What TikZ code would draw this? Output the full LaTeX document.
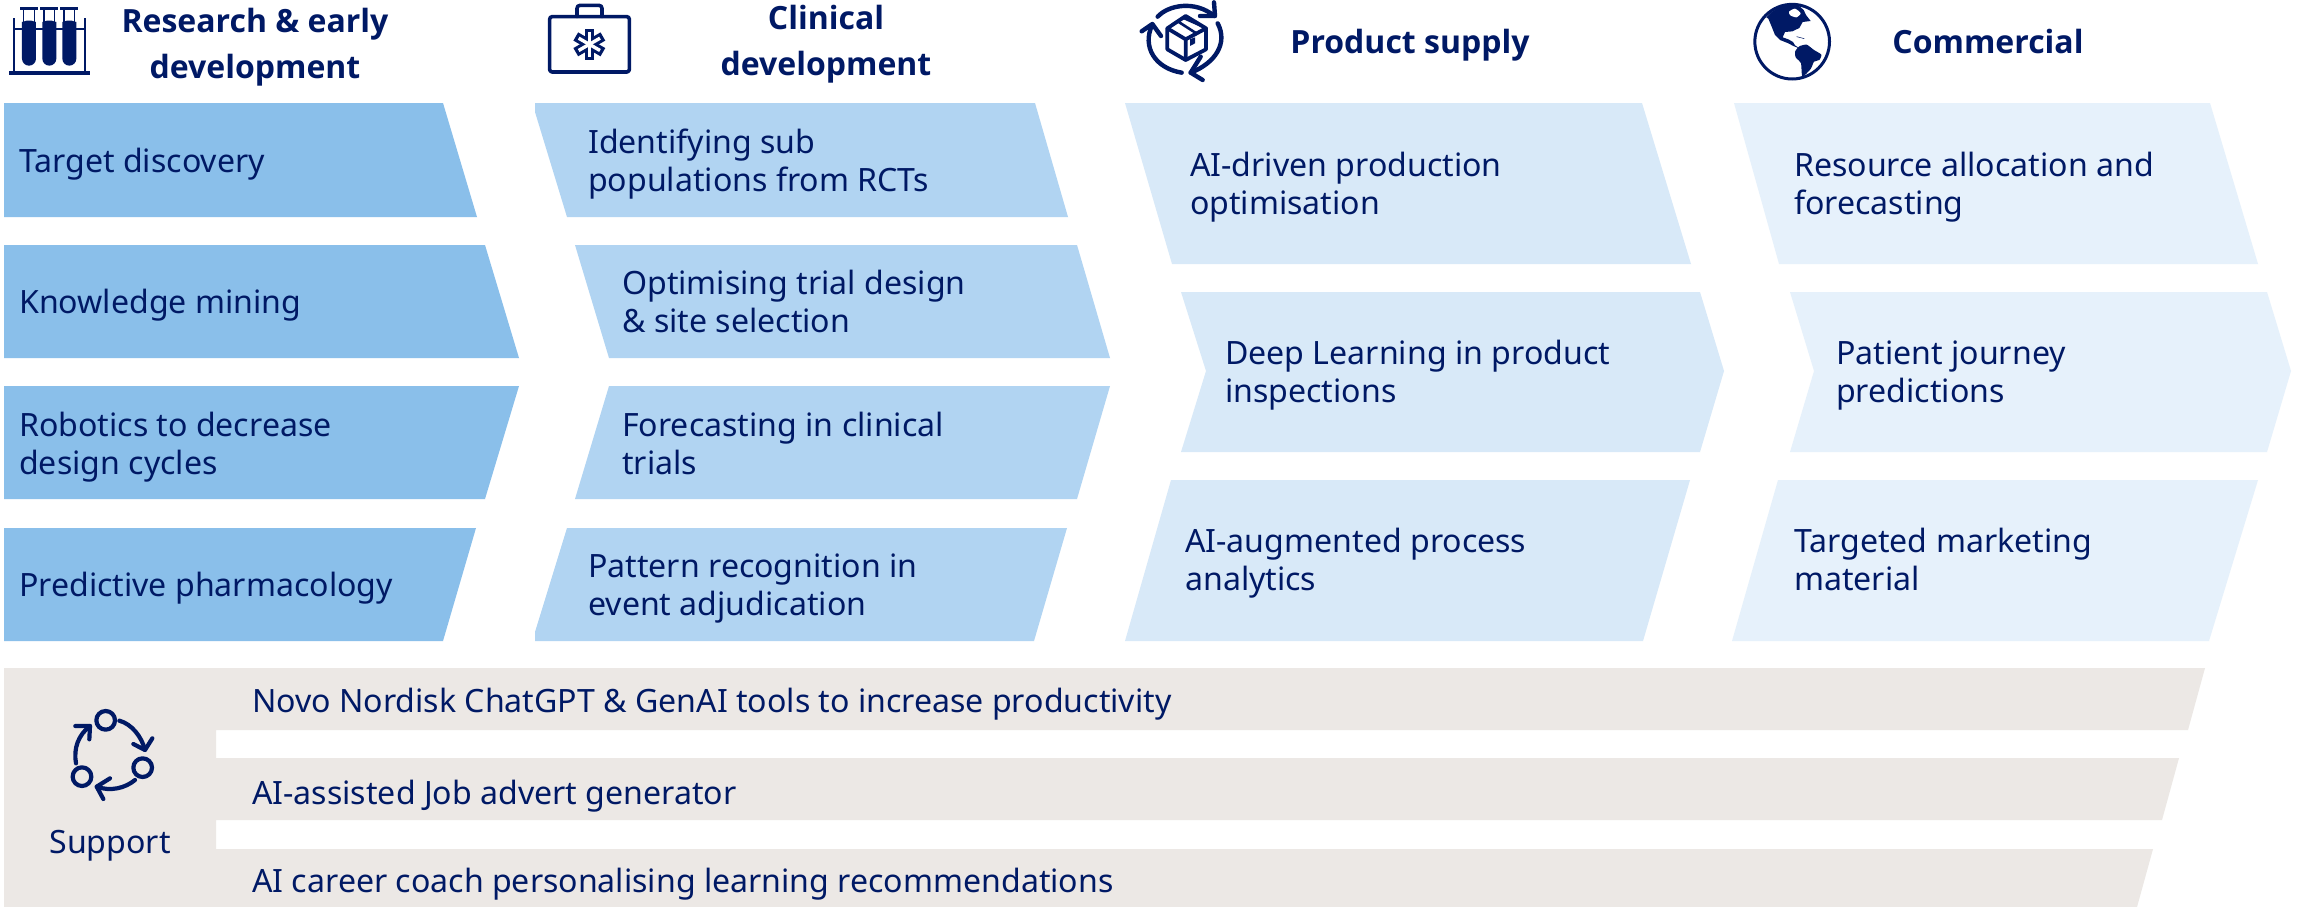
\documentclass[tikz,border=0pt]{standalone}
\usepackage{fontspec}
\setmainfont{Noto Sans}
\newfontfamily\hdfont{Open Sans}
\definecolor{navy}{HTML}{001965}
\definecolor{cola}{HTML}{8ABFEA}
\definecolor{colb}{HTML}{B1D4F2}
\definecolor{colc}{HTML}{D8E9F8}
\definecolor{cold}{HTML}{E6F1FB}
\definecolor{colg}{HTML}{ECE8E5}
\newcommand\twoln[2]{\strut #1\\\strut #2}
\tikzset{
  lbl/.style={anchor=west,align=left,inner sep=0pt,yshift=-4.5pt,text=navy,font=\fontsize{32.1}{38}\selectfont,execute at begin node=\strut},
  head/.style={anchor=center,align=center,inner sep=0pt,yshift=-3pt,text=navy,font=\hdfont\fontsize{32}{46}\selectfont\bfseries,execute at begin node=\strut},
  ico/.style={draw=navy,line width=#1,line cap=round,line join=round},
  ico/.default=3pt,
  zoomed/.style={x=.33333pt,y=-.33333pt}
}
\begin{document}
\begin{tikzpicture}[x=1pt,y=-1pt]
\useasboundingbox (0,0) rectangle (2300,907);
\fill[white] (0,0) rectangle (2300,907);
% column 1
\fill[cola] (4,103)--(443,103)--(477,217)--(4,217)--cycle;
\fill[cola] (4,245)--(485,245)--(519,358)--(4,358)--cycle;
\fill[cola] (4,386)--(519,386)--(485,499)--(4,499)--cycle;
\fill[cola] (4,528)--(476,528)--(443,641)--(4,641)--cycle;
% column 2
\fill[colb] (535,103)--(1035,103)--(1068,217)--(567,217)--(535,112)--cycle;
\fill[colb] (575,245)--(1077,245)--(1110,358)--(609,358)--cycle;
\fill[colb] (609,386)--(1110,386)--(1077,499)--(575,499)--cycle;
\fill[colb] (567,528)--(1067,528)--(1034,641)--(535,641)--(535,632)--cycle;
% column 3
\fill[colc] (1125,103)--(1642,103)--(1691,264)--(1172,264)--cycle;
\fill[colc] (1181,292)--(1700,292)--(1724,371)--(1700,452)--(1181,452)--(1206,371)--cycle;
\fill[colc] (1171,480)--(1690,480)--(1643,641)--(1125,641)--cycle;
% column 4
\fill[cold] (1734,103)--(2210,103)--(2258,264)--(1779,264)--cycle;
\fill[cold] (1790,292)--(2267,292)--(2291,371)--(2267,452)--(1790,452)--(1814,371)--cycle;
\fill[cold] (1778,480)--(2258,480)--(2209,641)--(1732,641)--cycle;
% support
\fill[colg] (4,668)--(2205,668)--(2188,730)--(216,730)--(216,758)--(2179,758)--(2162,820)--(216,820)--(216,849)--(2153,849)--(2137,907)--(4,907)--cycle;
% headings
\node[head] (h1) at (255,43) {\twoln{Research \& early}{development}};
\node[head] (h2) at (826,40) {\twoln{Clinical}{development}};
\node[head] (h3) at (1410,41) {Product supply};
\node[head] (h4) at (1988,41) {Commercial};
% labels
\node[lbl] (a1) at (19,160) {Target discovery};
\node[lbl] (a2) at (19,301) {Knowledge mining};
\node[lbl] (a3) at (19,443) {\twoln{Robotics to decrease}{design cycles}};
\node[lbl] (a4) at (19,584) {Predictive pharmacology};
\node[lbl] (b1) at (588,160) {\twoln{Identifying sub}{populations from RCTs}};
\node[lbl] (b2) at (622,301) {\twoln{Optimising trial design}{\& site selection}};
\node[lbl] (b3) at (622,443) {\twoln{Forecasting in clinical}{trials}};
\node[lbl] (b4) at (588,584) {\twoln{Pattern recognition in}{event adjudication}};
\node[lbl] (c1) at (1190,183) {\twoln{AI-driven production}{optimisation}};
\node[lbl] (c2) at (1225,371) {\twoln{Deep Learning in product}{inspections}};
\node[lbl] (c3) at (1185,559) {\twoln{AI-augmented process}{analytics}};
\node[lbl] (d1) at (1794,183) {\twoln{Resource allocation and}{forecasting}};
\node[lbl] (d2) at (1836,371) {\twoln{Patient journey}{predictions}};
\node[lbl] (d3) at (1794,559) {\twoln{Targeted marketing}{material}};
\node[lbl,anchor=center] (s0) at (110,841) {Support};
\node[lbl] (s1) at (252,700) {Novo Nordisk ChatGPT \& GenAI tools to increase productivity};
\node[lbl] (s2) at (252,792) {AI-assisted Job advert generator};
\node[lbl] (s3) at (252,880) {AI career coach personalising learning recommendations};
% test tube icon
\begin{scope}[shift={(0,0)},zoomed]
  \fill[navy] (27,212) rectangle (270,226);
  \fill[navy] (39,55) rectangle (46,212);
  \fill[navy] (252,55) rectangle (259,212);
  \fill[navy] (40,83) rectangle (258,89);
  \foreach \c in {87,148,208}{
    \fill[navy] (\c-21,66)--(\c-7,62)--(\c+7,62)--(\c+21,66)--(\c+21,176) arc[start angle=0,end angle=180,radius=21]--cycle;
    \draw[navy,line width=1.6pt] (\c-16,28)--(\c-16,66) (\c+16,28)--(\c+16,66);
    \fill[navy] (\c-27,22) rectangle (\c+27,30);
  }
\end{scope}
% briefcase icon
\begin{scope}[shift={(540,0)},zoomed]
  \draw[ico=3.6pt,rounded corners=2.5pt] (29,50) rectangle (268,216);
  \draw[ico=3.6pt,rounded corners=3pt] (111,50)--(111,16)--(186,16)--(186,50);
  \foreach \a in {90,30,-30}{
    \draw[navy,line width=9.5pt] (148,133)+(\a:47)--+(\a+180:47);
  }
  \foreach \a in {90,30,-30}{
    \draw[white,line width=3.4pt] (148,133)+(\a:37)--+(\a+180:37);
  }
\end{scope}
% supply icon
\begin{scope}[shift={(1135,0)},zoomed]
  \draw[ico=4.4pt] (68,50) .. controls (100,15) and (180,0) .. (238,48);
  \draw[ico=4.4pt] (195,48)--(240,48)--(237,7);
  \draw[ico=4.4pt] (248,70) .. controls (280,130) and (240,190) .. (167,218);
  \draw[ico=4.4pt] (197,170)--(167,218)--(203,240);
  \draw[ico=4.4pt] (140,218) .. controls (60,205) and (20,140) .. (52,74);
  \draw[ico=4.4pt] (20,94)--(52,72)--(78,108);
  \draw[ico=3.8pt] (152,48)--(213,85)--(213,148)--(152,180)--(97,148)--(97,85)--cycle;
  \draw[ico=3.8pt] (97,85)--(152,118)--(213,85) (152,118)--(152,180);
  \draw[ico=2.6pt] (128,64)--(184,100) (146,54)--(200,78);
  \fill[navy] (165,118)--(180,112)--(180,130)--(165,138)--cycle;
\end{scope}
% globe icon
\begin{scope}[shift={(1745,0)},zoomed]
  \draw[navy,line width=3pt] (141.5,125) circle[radius=112];
  \fill[navy] (64,52)--(80,36)--(105,20)--(135,13)--(160,16)--(176,30)--(183,45)--(197,63)--(173,66)--(163,84)--(142,94)--(120,96)--(113,112)--(130,118)--(144,126)--(150,136)--(165,146)--(145,138)--(130,130)--(105,120)--(90,105)--(80,80)--(70,56)--cycle;
  \fill[white] plot[smooth cycle,tension=.4] coordinates {(132,35) (150,26) (167,40) (154,52) (136,46)};
  \fill[navy] plot[smooth cycle,tension=.35] coordinates {(150,155) (163,139) (185,134) (207,150) (229,164) (223,180) (207,185) (197,207) (172,230) (168,190) (152,172)};
  \draw[navy,line width=.5pt] (155,110)--(178,116);
\end{scope}
% support icon
\begin{scope}[shift={(0,650)},zoomed]
  \draw[ico=4.2pt] (317,211) circle[radius=28];
  \draw[ico=4.2pt] (428,353) circle[radius=28];
  \draw[ico=4.2pt] (246,380) circle[radius=28];
  \draw[ico=4.2pt] (358,212) .. controls (395,222) and (425,260) .. (435,300);
  \draw[ico=4.2pt] (400,282)--(435,300)--(457,265);
  \draw[ico=4.2pt] (405,390) .. controls (375,415) and (330,425) .. (290,410);
  \draw[ico=4.2pt] (330,385)--(290,410)--(310,447);
  \draw[ico=4.2pt] (228,340) .. controls (220,295) and (235,255) .. (270,228);
  \draw[ico=4.2pt] (226,228)--(270,228)--(268,268);
\end{scope}
\end{tikzpicture}
\end{document}
